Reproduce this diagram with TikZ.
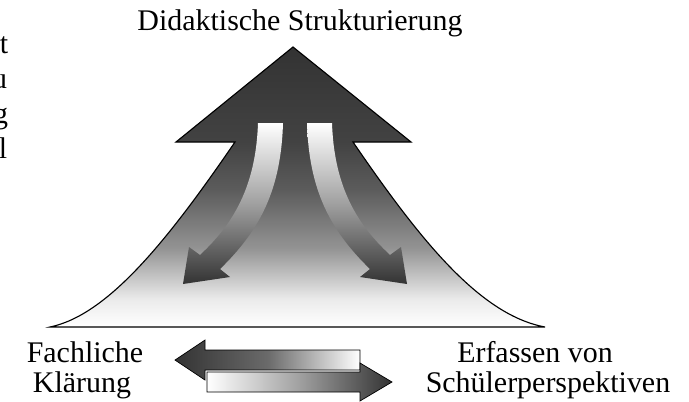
\documentclass[tikz,border=0pt]{standalone}
\usepackage{fontspec}
\setmainfont{Liberation Serif}
\usepackage{xcolor}
\definecolor{shadeDark}  {HTML}{333333}
\definecolor{shadeMid}   {HTML}{6A6A6A}
\definecolor{shadeSoft}  {HTML}{A0A0A0}
% fade of the big arrow: dark at the tip, white at the base
\pgfdeclareverticalshading{bigfade}{100bp}{%
    color(0bp)=(white); color(25bp)=(white); color(30bp)=(black!8);
    color(39bp)=(black!42); color(49.5bp)=(black!64);
    color(58bp)=(black!74); color(75bp)=(black!80); color(100bp)=(black!80)}
\tikzset{
    lbltext/.style={font=\fontsize{21.3}{21.3}\selectfont, inner sep=0pt},
    bigshape/.style={draw=black, line width=0.8pt, shading=bigfade},
    bendarrow/.style={top color=white, bottom color=shadeDark,
                      middle color=shadeSoft},
    flatarrow/.style={draw=black, line width=0.5pt},
}

\begin{document}
\begin{tikzpicture}[x=0.25mm, y=-0.25mm]
\useasboundingbox (0,0) rectangle (689,401);

% --- cut-off words from the next column ---
\node[lbltext, anchor=base east] (frag-t) at (8.5,53)  {t};
\node[lbltext, anchor=base east] (frag-u) at (7.5,88)  {u};
\node[lbltext, anchor=base east] (frag-g) at (8.5,123) {g};
\node[lbltext, anchor=base east] (frag-l) at (7.5,158) {l};

% --- big arrow ---
\shadedraw[bigshape] (293,47) -- (411,142) -- (353,142)
    .. controls (420,240) and (480,315) .. (545,327)
    -- (50,327)
    .. controls (108,315) and (168,240) .. (235,142)
    -- (176,142) -- cycle;

% --- bent arrows inside ---
\shade[bendarrow] (258,123) -- (283,123)
    .. controls (281,190) and (260,230) .. (220,269)
    -- (230,277) -- (183,284) -- (189,247) -- (200,255)
    .. controls (238,220) and (256,180) .. (258,123) -- cycle;
\shade[bendarrow] (332,123) -- (307,123)
    .. controls (309,190) and (330,230) .. (370,269)
    -- (360,277) -- (407,284) -- (401,247) -- (390,255)
    .. controls (352,220) and (334,180) .. (332,123) -- cycle;

% --- double arrow at the bottom ---
\draw[flatarrow, left color=shadeDark, right color=white,
      middle color=shadeMid]
    (175,360) -- (205,340) -- (205,350) -- (360,350) -- (360,370)
    -- (205,370) -- (205,380) -- cycle;
\draw[flatarrow, left color=white, right color=shadeDark,
      middle color=shadeSoft]
    (392,382) -- (360,401) -- (360,392) -- (207,392) -- (207,372)
    -- (360,372) -- (360,363) -- cycle;

% --- labels ---
\node[lbltext, anchor=base] (title)  at (300,30)  {Didaktische Strukturierung};
\node[lbltext, anchor=base] (fach-1) at (85,362)  {Fachliche};
\node[lbltext, anchor=base] (fach-2) at (82,392)  {Klärung};
\node[lbltext, anchor=base] (erf-1)  at (535,362) {Erfassen von};
\node[lbltext, anchor=base] (erf-2)  at (548,392) {Schülerperspektiven};
\end{tikzpicture}
\end{document}
